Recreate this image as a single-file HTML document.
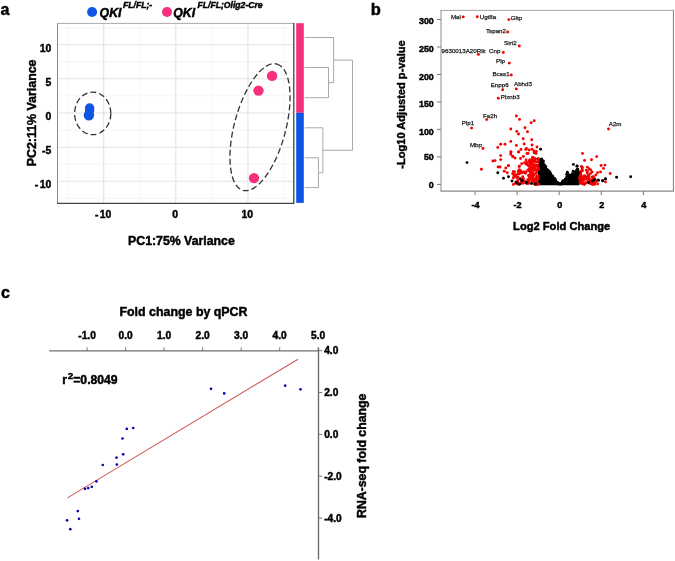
<!DOCTYPE html>
<html><head><meta charset="utf-8"><style>
html,body{margin:0;padding:0;background:#fff;}
svg{display:block;will-change:transform;filter:blur(0.3px);}
text{font-family:"Liberation Sans",sans-serif;}
text[font-weight="bold"]{stroke:#000;stroke-width:0.45px;}
</style></head><body>
<svg width="675" height="561" viewBox="0 0 675 561">
<rect width="675" height="561" fill="#fff"/>
<line x1="67.7" y1="23.4" x2="67.7" y2="203.3" stroke="#f3f3f3" stroke-width="0.8"/>
<line x1="139.8" y1="23.4" x2="139.8" y2="203.3" stroke="#f3f3f3" stroke-width="0.8"/>
<line x1="211.9" y1="23.4" x2="211.9" y2="203.3" stroke="#f3f3f3" stroke-width="0.8"/>
<line x1="284.0" y1="23.4" x2="284.0" y2="203.3" stroke="#f3f3f3" stroke-width="0.8"/>
<line x1="57.5" y1="27.6" x2="293.8" y2="27.6" stroke="#f3f3f3" stroke-width="0.8"/>
<line x1="57.5" y1="61.8" x2="293.8" y2="61.8" stroke="#f3f3f3" stroke-width="0.8"/>
<line x1="57.5" y1="95.9" x2="293.8" y2="95.9" stroke="#f3f3f3" stroke-width="0.8"/>
<line x1="57.5" y1="130.1" x2="293.8" y2="130.1" stroke="#f3f3f3" stroke-width="0.8"/>
<line x1="57.5" y1="164.2" x2="293.8" y2="164.2" stroke="#f3f3f3" stroke-width="0.8"/>
<line x1="57.5" y1="198.4" x2="293.8" y2="198.4" stroke="#f3f3f3" stroke-width="0.8"/>
<line x1="103.7" y1="23.4" x2="103.7" y2="203.3" stroke="#e3e3e3" stroke-width="1.1"/>
<line x1="175.8" y1="23.4" x2="175.8" y2="203.3" stroke="#e3e3e3" stroke-width="1.1"/>
<line x1="247.9" y1="23.4" x2="247.9" y2="203.3" stroke="#e3e3e3" stroke-width="1.1"/>
<line x1="57.5" y1="44.7" x2="293.8" y2="44.7" stroke="#e3e3e3" stroke-width="1.1"/>
<line x1="57.5" y1="78.8" x2="293.8" y2="78.8" stroke="#e3e3e3" stroke-width="1.1"/>
<line x1="57.5" y1="113.0" x2="293.8" y2="113.0" stroke="#e3e3e3" stroke-width="1.1"/>
<line x1="57.5" y1="147.2" x2="293.8" y2="147.2" stroke="#e3e3e3" stroke-width="1.1"/>
<line x1="57.5" y1="181.3" x2="293.8" y2="181.3" stroke="#e3e3e3" stroke-width="1.1"/>
<line x1="57.5" y1="23.4" x2="293.8" y2="23.4" stroke="#aaa" stroke-width="1"/>
<line x1="57.5" y1="23.4" x2="57.5" y2="203.3" stroke="#888" stroke-width="1"/>
<line x1="57.0" y1="203.3" x2="293.8" y2="203.3" stroke="#444" stroke-width="1.2"/>
<line x1="293.8" y1="22.9" x2="293.8" y2="203.9" stroke="#333" stroke-width="1.2"/>
<circle cx="89.6" cy="108.0" r="4.7" fill="#0e55e4"/>
<circle cx="89.6" cy="110.6" r="4.7" fill="#0e55e4"/>
<circle cx="88.9" cy="115.3" r="5.2" fill="#0e55e4"/>
<circle cx="272.1" cy="75.9" r="5.2" fill="#f6307a"/>
<circle cx="258.5" cy="90.6" r="5.2" fill="#f6307a"/>
<circle cx="254" cy="178.1" r="5.2" fill="#f6307a"/>
<ellipse cx="92.7" cy="113.4" rx="18.1" ry="21.3" fill="none" stroke="#333" stroke-width="1.3" stroke-dasharray="6 3"/>
<ellipse cx="260" cy="127.2" rx="65.4" ry="25.7" transform="rotate(-75 260 127.2)" fill="none" stroke="#333" stroke-width="1.3" stroke-dasharray="6 3"/>
<rect x="296.2" y="23.2" width="7.6" height="89.6" fill="#f6307a"/>
<rect x="296.2" y="112.8" width="7.6" height="90.1" fill="#0e55e4"/>
<line x1="304.7" y1="37.5" x2="333.6" y2="37.5" stroke="#a8a8a8" stroke-width="1"/>
<line x1="304.7" y1="67.5" x2="328.5" y2="67.5" stroke="#a8a8a8" stroke-width="1"/>
<line x1="304.7" y1="97.7" x2="328.5" y2="97.7" stroke="#a8a8a8" stroke-width="1"/>
<line x1="328.5" y1="67.5" x2="328.5" y2="97.7" stroke="#a8a8a8" stroke-width="1"/>
<line x1="328.5" y1="82.6" x2="333.6" y2="82.6" stroke="#a8a8a8" stroke-width="1"/>
<line x1="333.6" y1="37.5" x2="333.6" y2="82.6" stroke="#a8a8a8" stroke-width="1"/>
<line x1="333.6" y1="60.1" x2="352.5" y2="60.1" stroke="#a8a8a8" stroke-width="1"/>
<line x1="304.7" y1="127.8" x2="322.9" y2="127.8" stroke="#a8a8a8" stroke-width="1"/>
<line x1="304.7" y1="157.8" x2="318.4" y2="157.8" stroke="#a8a8a8" stroke-width="1"/>
<line x1="304.7" y1="187.6" x2="318.4" y2="187.6" stroke="#a8a8a8" stroke-width="1"/>
<line x1="318.4" y1="157.8" x2="318.4" y2="187.6" stroke="#a8a8a8" stroke-width="1"/>
<line x1="318.4" y1="172.7" x2="322.9" y2="172.7" stroke="#a8a8a8" stroke-width="1"/>
<line x1="322.9" y1="127.8" x2="322.9" y2="172.7" stroke="#a8a8a8" stroke-width="1"/>
<line x1="322.9" y1="150.3" x2="352.5" y2="150.3" stroke="#a8a8a8" stroke-width="1"/>
<line x1="352.5" y1="60.1" x2="352.5" y2="150.3" stroke="#a8a8a8" stroke-width="1"/>
<text x="51.2" y="51.8" text-anchor="end" font-size="10.4" font-weight="bold">10</text>
<text x="51.2" y="85.9" text-anchor="end" font-size="10.4" font-weight="bold">5</text>
<text x="51.2" y="120.1" text-anchor="end" font-size="10.4" font-weight="bold">0</text>
<text x="51.2" y="154.2" text-anchor="end" font-size="10.4" font-weight="bold">-5</text>
<text x="51.2" y="188.4" text-anchor="end" font-size="10.4" font-weight="bold">-<tspan dx="1.3">10</tspan></text>
<text x="103.1" y="218.3" text-anchor="middle" font-size="10.4" font-weight="bold">-<tspan dx="1.3">10</tspan></text>
<text x="175.2" y="218.3" text-anchor="middle" font-size="10.4" font-weight="bold">0</text>
<text x="247.3" y="218.3" text-anchor="middle" font-size="10.4" font-weight="bold">10</text>
<text x="181.4" y="244.8" text-anchor="middle" font-size="12.3" font-weight="bold">PC1:75% Variance</text>
<text transform="translate(36.4 112.9) rotate(-90)" text-anchor="middle" font-size="12.4" font-weight="bold">PC2:11% Variance</text>
<circle cx="92.1" cy="12" r="5" fill="#0e55e4"/>
<text x="99.6" y="16.6" font-size="12.3" font-weight="bold" font-style="italic">QKI</text>
<text x="123" y="7.5" font-size="8.65" font-weight="bold" font-style="italic">FL/FL;-</text>
<circle cx="167" cy="12" r="5" fill="#f6307a"/>
<text x="173.3" y="16.6" font-size="12.3" font-weight="bold" font-style="italic">QKI</text>
<text x="197.5" y="8.0" font-size="8.65" font-weight="bold" font-style="italic">FL/FL;Olig2-Cre</text>
<text x="0.6" y="15.1" font-size="16" font-weight="bold">a</text>
<text x="370.7" y="15.0" font-size="16.5" font-weight="bold">b</text>
<text x="1.1" y="297.7" font-size="16" font-weight="bold">c</text>
<line x1="440.5" y1="10.4" x2="673.9" y2="10.4" stroke="#a4a4a4" stroke-width="1"/>
<line x1="441.0" y1="10.4" x2="441.0" y2="191.1" stroke="#8c8c8c" stroke-width="1"/>
<line x1="673.4" y1="10.4" x2="673.4" y2="191.1" stroke="#7a7a7a" stroke-width="1"/>
<line x1="440.5" y1="191.1" x2="673.9" y2="191.1" stroke="#6a6a6a" stroke-width="1"/>
<line x1="437.0" y1="184.4" x2="441.0" y2="184.4" stroke="#7a7a7a" stroke-width="1"/>
<text x="433.8" y="188.3" text-anchor="end" font-size="8.9" font-weight="bold">0</text>
<line x1="437.0" y1="156.9" x2="441.0" y2="156.9" stroke="#7a7a7a" stroke-width="1"/>
<text x="433.8" y="160.4" text-anchor="end" font-size="8.9" font-weight="bold">50</text>
<line x1="437.0" y1="129.4" x2="441.0" y2="129.4" stroke="#7a7a7a" stroke-width="1"/>
<text x="433.8" y="134.6" text-anchor="end" font-size="8.9" font-weight="bold">100</text>
<line x1="437.0" y1="102.0" x2="441.0" y2="102.0" stroke="#7a7a7a" stroke-width="1"/>
<text x="433.8" y="107.1" text-anchor="end" font-size="8.9" font-weight="bold">150</text>
<line x1="437.0" y1="74.5" x2="441.0" y2="74.5" stroke="#7a7a7a" stroke-width="1"/>
<text x="433.8" y="79.5" text-anchor="end" font-size="8.9" font-weight="bold">200</text>
<line x1="437.0" y1="47.0" x2="441.0" y2="47.0" stroke="#7a7a7a" stroke-width="1"/>
<text x="433.8" y="51.8" text-anchor="end" font-size="8.9" font-weight="bold">250</text>
<line x1="437.0" y1="19.5" x2="441.0" y2="19.5" stroke="#7a7a7a" stroke-width="1"/>
<text x="433.8" y="24.3" text-anchor="end" font-size="8.9" font-weight="bold">300</text>
<line x1="475.0" y1="191.1" x2="475.0" y2="195.1" stroke="#7a7a7a" stroke-width="1"/>
<text x="475.5" y="207.8" text-anchor="middle" font-size="9.1" font-weight="bold">-4</text>
<line x1="517.1" y1="191.1" x2="517.1" y2="195.1" stroke="#7a7a7a" stroke-width="1"/>
<text x="517.6" y="207.8" text-anchor="middle" font-size="9.1" font-weight="bold">-2</text>
<line x1="559.2" y1="191.1" x2="559.2" y2="195.1" stroke="#7a7a7a" stroke-width="1"/>
<text x="559.7" y="207.8" text-anchor="middle" font-size="9.1" font-weight="bold">0</text>
<line x1="601.3" y1="191.1" x2="601.3" y2="195.1" stroke="#7a7a7a" stroke-width="1"/>
<text x="601.8" y="207.8" text-anchor="middle" font-size="9.1" font-weight="bold">2</text>
<line x1="643.4" y1="191.1" x2="643.4" y2="195.1" stroke="#7a7a7a" stroke-width="1"/>
<text x="643.9" y="207.8" text-anchor="middle" font-size="9.1" font-weight="bold">4</text>
<text x="561.7" y="229.6" text-anchor="middle" font-size="11.15" font-weight="bold">Log2 Fold Change</text>
<text transform="translate(405.2 104.5) rotate(-90)" text-anchor="middle" font-size="11.1" font-weight="bold">-Log10 Adjusted p-value</text>
<polygon points="538.6,158.8 542,158.6 543.5,161.3 545,164.5 547.5,168.5 549.5,171.5 551.5,174.6 553.5,177 555.5,179.4 557.5,181.6 559.3,183.2 561,182.4 563,180.5 565.5,177.8 568,175.5 570.5,174.2 573,172.6 575.5,171.5 578.8,170.5 578.8,185.3 538.6,185.3" fill="#000"/>
<circle cx="539.1" cy="159.6" r="1.45" fill="#000"/>
<circle cx="540.4" cy="160.3" r="1.45" fill="#000"/>
<circle cx="541.5" cy="159.7" r="1.45" fill="#000"/>
<circle cx="541.8" cy="159.8" r="1.45" fill="#000"/>
<circle cx="543.3" cy="160.9" r="1.45" fill="#000"/>
<circle cx="542.8" cy="161.6" r="1.45" fill="#000"/>
<circle cx="543.1" cy="162.0" r="1.45" fill="#000"/>
<circle cx="543.4" cy="164.1" r="1.45" fill="#000"/>
<circle cx="544.1" cy="165.3" r="1.45" fill="#000"/>
<circle cx="544.6" cy="165.5" r="1.45" fill="#000"/>
<circle cx="545.8" cy="166.7" r="1.45" fill="#000"/>
<circle cx="546.4" cy="169.1" r="1.45" fill="#000"/>
<circle cx="548.1" cy="170.2" r="1.45" fill="#000"/>
<circle cx="548.4" cy="171.4" r="1.45" fill="#000"/>
<circle cx="549.5" cy="171.8" r="1.45" fill="#000"/>
<circle cx="549.9" cy="172.2" r="1.45" fill="#000"/>
<circle cx="550.5" cy="173.8" r="1.45" fill="#000"/>
<circle cx="551.2" cy="175.0" r="1.45" fill="#000"/>
<circle cx="551.2" cy="175.3" r="1.45" fill="#000"/>
<circle cx="552.8" cy="176.2" r="1.45" fill="#000"/>
<circle cx="552.8" cy="177.3" r="1.45" fill="#000"/>
<circle cx="553.2" cy="178.6" r="1.45" fill="#000"/>
<circle cx="554.9" cy="178.8" r="1.45" fill="#000"/>
<circle cx="555.1" cy="179.6" r="1.45" fill="#000"/>
<circle cx="555.6" cy="180.6" r="1.45" fill="#000"/>
<circle cx="555.6" cy="181.0" r="1.45" fill="#000"/>
<circle cx="556.4" cy="182.7" r="1.45" fill="#000"/>
<circle cx="557.5" cy="182.5" r="1.45" fill="#000"/>
<circle cx="558.7" cy="184.1" r="1.45" fill="#000"/>
<circle cx="558.6" cy="183.5" r="1.45" fill="#000"/>
<circle cx="558.8" cy="183.9" r="1.45" fill="#000"/>
<circle cx="559.6" cy="183.7" r="1.45" fill="#000"/>
<circle cx="560.0" cy="183.6" r="1.45" fill="#000"/>
<circle cx="561.1" cy="184.2" r="1.45" fill="#000"/>
<circle cx="562.1" cy="183.0" r="1.45" fill="#000"/>
<circle cx="562.2" cy="182.5" r="1.45" fill="#000"/>
<circle cx="562.8" cy="181.6" r="1.45" fill="#000"/>
<circle cx="563.1" cy="180.6" r="1.45" fill="#000"/>
<circle cx="565.4" cy="179.5" r="1.45" fill="#000"/>
<circle cx="565.5" cy="179.3" r="1.45" fill="#000"/>
<circle cx="566.9" cy="177.9" r="1.45" fill="#000"/>
<circle cx="566.8" cy="177.2" r="1.45" fill="#000"/>
<circle cx="567.8" cy="176.7" r="1.45" fill="#000"/>
<circle cx="569.6" cy="176.9" r="1.45" fill="#000"/>
<circle cx="570.2" cy="175.3" r="1.45" fill="#000"/>
<circle cx="569.8" cy="175.8" r="1.45" fill="#000"/>
<circle cx="572.0" cy="174.9" r="1.45" fill="#000"/>
<circle cx="572.3" cy="173.7" r="1.45" fill="#000"/>
<circle cx="572.8" cy="174.5" r="1.45" fill="#000"/>
<circle cx="574.3" cy="174.0" r="1.45" fill="#000"/>
<circle cx="575.4" cy="172.8" r="1.45" fill="#000"/>
<circle cx="574.9" cy="172.3" r="1.45" fill="#000"/>
<circle cx="576.6" cy="172.7" r="1.45" fill="#000"/>
<circle cx="578.4" cy="172.5" r="1.45" fill="#000"/>
<circle cx="539.6" cy="178.7" r="1.45" fill="#000"/>
<circle cx="539.1" cy="173.5" r="1.45" fill="#000"/>
<circle cx="538.1" cy="179.2" r="1.45" fill="#000"/>
<circle cx="538.6" cy="182.5" r="1.45" fill="#000"/>
<circle cx="539.6" cy="167.4" r="1.45" fill="#000"/>
<circle cx="538.3" cy="166.2" r="1.45" fill="#000"/>
<circle cx="539.6" cy="177.1" r="1.45" fill="#000"/>
<circle cx="538.3" cy="161.7" r="1.45" fill="#000"/>
<circle cx="539.3" cy="174.3" r="1.45" fill="#000"/>
<circle cx="539.0" cy="165.5" r="1.45" fill="#000"/>
<circle cx="539.5" cy="160.3" r="1.45" fill="#000"/>
<circle cx="538.8" cy="171.3" r="1.45" fill="#000"/>
<circle cx="540.4" cy="175.8" r="1.45" fill="#000"/>
<circle cx="540.2" cy="171.6" r="1.45" fill="#000"/>
<circle cx="577.4" cy="172.8" r="1.45" fill="#000"/>
<circle cx="580.3" cy="179.9" r="1.45" fill="#000"/>
<circle cx="577.7" cy="169.3" r="1.45" fill="#000"/>
<circle cx="578.5" cy="179.5" r="1.45" fill="#000"/>
<circle cx="578.2" cy="173.0" r="1.45" fill="#000"/>
<circle cx="579.2" cy="183.3" r="1.45" fill="#000"/>
<circle cx="577.4" cy="169.5" r="1.45" fill="#000"/>
<circle cx="577.9" cy="175.5" r="1.45" fill="#000"/>
<circle cx="579.2" cy="172.1" r="1.45" fill="#000"/>
<circle cx="579.7" cy="180.5" r="1.45" fill="#000"/>
<circle cx="578.5" cy="172.2" r="1.45" fill="#000"/>
<circle cx="580.4" cy="173.8" r="1.45" fill="#000"/>
<circle cx="579.8" cy="172.6" r="1.45" fill="#000"/>
<circle cx="577.4" cy="180.8" r="1.45" fill="#000"/>
<circle cx="577.7" cy="183.8" r="1.45" fill="#000"/>
<circle cx="578.5" cy="171.9" r="1.45" fill="#000"/>
<circle cx="568.2" cy="174.5" r="1.45" fill="#000"/>
<circle cx="572.7" cy="177.7" r="1.45" fill="#000"/>
<circle cx="567.5" cy="174.4" r="1.45" fill="#000"/>
<circle cx="568.1" cy="177.8" r="1.45" fill="#000"/>
<circle cx="567.4" cy="172.3" r="1.45" fill="#000"/>
<circle cx="566.6" cy="174.4" r="1.45" fill="#000"/>
<circle cx="575.0" cy="177.3" r="1.45" fill="#000"/>
<circle cx="573.3" cy="178.0" r="1.45" fill="#000"/>
<circle cx="575.3" cy="174.0" r="1.45" fill="#000"/>
<circle cx="567.9" cy="177.6" r="1.45" fill="#000"/>
<circle cx="467" cy="162.6" r="1.45" fill="#000"/>
<circle cx="497.8" cy="172.8" r="1.45" fill="#000"/>
<circle cx="503.5" cy="178.2" r="1.45" fill="#000"/>
<circle cx="508.5" cy="176.8" r="1.45" fill="#000"/>
<circle cx="540.6" cy="149.2" r="1.45" fill="#000"/>
<circle cx="538.1" cy="158.9" r="1.45" fill="#000"/>
<circle cx="541.7" cy="158.9" r="1.45" fill="#000"/>
<circle cx="573.4" cy="164.4" r="1.45" fill="#000"/>
<circle cx="577.1" cy="165.9" r="1.45" fill="#000"/>
<circle cx="573.1" cy="171.1" r="1.45" fill="#000"/>
<circle cx="576.9" cy="170" r="1.45" fill="#000"/>
<circle cx="577" cy="166.3" r="1.45" fill="#000"/>
<circle cx="576.6" cy="170.5" r="1.45" fill="#000"/>
<circle cx="594.3" cy="179.7" r="1.45" fill="#000"/>
<circle cx="592.3" cy="181.1" r="1.45" fill="#000"/>
<circle cx="602.7" cy="180.7" r="1.45" fill="#000"/>
<circle cx="605.5" cy="178.9" r="1.45" fill="#000"/>
<circle cx="616.6" cy="177.3" r="1.45" fill="#000"/>
<circle cx="630.7" cy="176.7" r="1.45" fill="#000"/>
<circle cx="598.3" cy="180.3" r="1.45" fill="#000"/>
<circle cx="520.3" cy="178.7" r="1.45" fill="#000"/>
<circle cx="522.6" cy="180.2" r="1.45" fill="#000"/>
<circle cx="516" cy="182" r="1.45" fill="#000"/>
<circle cx="526" cy="183" r="1.45" fill="#000"/>
<circle cx="512" cy="181" r="1.45" fill="#000"/>
<circle cx="463.3" cy="16.9" r="1.45" fill="#f40000"/>
<circle cx="477.3" cy="16.7" r="1.45" fill="#f40000"/>
<circle cx="508.9" cy="19.6" r="1.45" fill="#f40000"/>
<circle cx="507.6" cy="32" r="1.45" fill="#f40000"/>
<circle cx="519.3" cy="46" r="1.45" fill="#f40000"/>
<circle cx="478.4" cy="54.4" r="1.45" fill="#f40000"/>
<circle cx="503.3" cy="52.4" r="1.45" fill="#f40000"/>
<circle cx="509.3" cy="63.1" r="1.45" fill="#f40000"/>
<circle cx="511.3" cy="75" r="1.45" fill="#f40000"/>
<circle cx="502.7" cy="89.7" r="1.45" fill="#f40000"/>
<circle cx="516.3" cy="88.9" r="1.45" fill="#f40000"/>
<circle cx="498.3" cy="98.3" r="1.45" fill="#f40000"/>
<circle cx="486.6" cy="119.6" r="1.45" fill="#f40000"/>
<circle cx="471.6" cy="128.1" r="1.45" fill="#f40000"/>
<circle cx="483" cy="148.4" r="1.45" fill="#f40000"/>
<circle cx="608.5" cy="129" r="1.45" fill="#f40000"/>
<circle cx="481.4" cy="169.3" r="1.45" fill="#f40000"/>
<circle cx="516.4" cy="116" r="1.45" fill="#f40000"/>
<circle cx="519.5" cy="119.4" r="1.45" fill="#f40000"/>
<circle cx="534.2" cy="120.8" r="1.45" fill="#f40000"/>
<circle cx="531.1" cy="122.8" r="1.45" fill="#f40000"/>
<circle cx="510.8" cy="129" r="1.45" fill="#f40000"/>
<circle cx="525" cy="127.8" r="1.45" fill="#f40000"/>
<circle cx="516.8" cy="131.4" r="1.45" fill="#f40000"/>
<circle cx="527.5" cy="131.7" r="1.45" fill="#f40000"/>
<circle cx="518.5" cy="134" r="1.45" fill="#f40000"/>
<circle cx="523.2" cy="138.8" r="1.45" fill="#f40000"/>
<circle cx="531.7" cy="139.7" r="1.45" fill="#f40000"/>
<circle cx="510.8" cy="141.4" r="1.45" fill="#f40000"/>
<circle cx="500.7" cy="144.2" r="1.45" fill="#f40000"/>
<circle cx="505" cy="144.2" r="1.45" fill="#f40000"/>
<circle cx="497.8" cy="147.4" r="1.45" fill="#f40000"/>
<circle cx="516.4" cy="145.4" r="1.45" fill="#f40000"/>
<circle cx="524.2" cy="144" r="1.45" fill="#f40000"/>
<circle cx="532.1" cy="145" r="1.45" fill="#f40000"/>
<circle cx="537" cy="147" r="1.45" fill="#f40000"/>
<circle cx="526.4" cy="148.5" r="1.45" fill="#f40000"/>
<circle cx="511" cy="152" r="1.45" fill="#f40000"/>
<circle cx="518.5" cy="152" r="1.45" fill="#f40000"/>
<circle cx="500.7" cy="155.6" r="1.45" fill="#f40000"/>
<circle cx="512.8" cy="156.4" r="1.45" fill="#f40000"/>
<circle cx="500.7" cy="159.6" r="1.45" fill="#f40000"/>
<circle cx="492.9" cy="161" r="1.45" fill="#f40000"/>
<circle cx="495" cy="160.6" r="1.45" fill="#f40000"/>
<circle cx="508.5" cy="165.6" r="1.45" fill="#f40000"/>
<circle cx="500" cy="167" r="1.45" fill="#f40000"/>
<circle cx="504.3" cy="171.3" r="1.45" fill="#f40000"/>
<circle cx="510.8" cy="154.2" r="1.45" fill="#f40000"/>
<circle cx="498.1" cy="167" r="1.45" fill="#f40000"/>
<circle cx="529" cy="150" r="1.45" fill="#f40000"/>
<circle cx="534" cy="151" r="1.45" fill="#f40000"/>
<circle cx="521" cy="149.5" r="1.45" fill="#f40000"/>
<circle cx="527" cy="153.5" r="1.45" fill="#f40000"/>
<circle cx="515" cy="158" r="1.45" fill="#f40000"/>
<circle cx="536" cy="153.5" r="1.45" fill="#f40000"/>
<circle cx="582.5" cy="153.4" r="1.45" fill="#f40000"/>
<circle cx="596.7" cy="156.6" r="1.45" fill="#f40000"/>
<circle cx="584.5" cy="160.4" r="1.45" fill="#f40000"/>
<circle cx="591.5" cy="159.8" r="1.45" fill="#f40000"/>
<circle cx="581.4" cy="166.5" r="1.45" fill="#f40000"/>
<circle cx="582.4" cy="167.5" r="1.45" fill="#f40000"/>
<circle cx="587.4" cy="167.1" r="1.45" fill="#f40000"/>
<circle cx="589" cy="168.7" r="1.45" fill="#f40000"/>
<circle cx="590.6" cy="169.9" r="1.45" fill="#f40000"/>
<circle cx="587.4" cy="171.5" r="1.45" fill="#f40000"/>
<circle cx="601.1" cy="165.5" r="1.45" fill="#f40000"/>
<circle cx="604.9" cy="165.1" r="1.45" fill="#f40000"/>
<circle cx="603.5" cy="168.4" r="1.45" fill="#f40000"/>
<circle cx="600.5" cy="171.9" r="1.45" fill="#f40000"/>
<circle cx="610.2" cy="173.5" r="1.45" fill="#f40000"/>
<circle cx="605.5" cy="181.9" r="1.45" fill="#f40000"/>
<circle cx="532.1" cy="161.6" r="1.45" fill="#f40000"/>
<circle cx="535.2" cy="159.5" r="1.45" fill="#f40000"/>
<circle cx="534.1" cy="167.4" r="1.45" fill="#f40000"/>
<circle cx="529.6" cy="171.3" r="1.45" fill="#f40000"/>
<circle cx="529.4" cy="169.3" r="1.45" fill="#f40000"/>
<circle cx="529.7" cy="160.0" r="1.45" fill="#f40000"/>
<circle cx="533.1" cy="179.9" r="1.45" fill="#f40000"/>
<circle cx="530.2" cy="163.5" r="1.45" fill="#f40000"/>
<circle cx="535.0" cy="183.2" r="1.45" fill="#f40000"/>
<circle cx="534.5" cy="168.3" r="1.45" fill="#f40000"/>
<circle cx="538.4" cy="158.8" r="1.45" fill="#f40000"/>
<circle cx="537.2" cy="165.3" r="1.45" fill="#f40000"/>
<circle cx="530.4" cy="160.7" r="1.45" fill="#f40000"/>
<circle cx="532.0" cy="179.6" r="1.45" fill="#f40000"/>
<circle cx="530.7" cy="173.3" r="1.45" fill="#f40000"/>
<circle cx="535.1" cy="167.6" r="1.45" fill="#f40000"/>
<circle cx="534.3" cy="159.2" r="1.45" fill="#f40000"/>
<circle cx="529.6" cy="163.1" r="1.45" fill="#f40000"/>
<circle cx="535.5" cy="169.1" r="1.45" fill="#f40000"/>
<circle cx="532.0" cy="173.4" r="1.45" fill="#f40000"/>
<circle cx="533.4" cy="165.6" r="1.45" fill="#f40000"/>
<circle cx="536.6" cy="176.4" r="1.45" fill="#f40000"/>
<circle cx="531.3" cy="173.1" r="1.45" fill="#f40000"/>
<circle cx="534.0" cy="181.2" r="1.45" fill="#f40000"/>
<circle cx="536.0" cy="165.3" r="1.45" fill="#f40000"/>
<circle cx="538.4" cy="160.7" r="1.45" fill="#f40000"/>
<circle cx="533.0" cy="178.0" r="1.45" fill="#f40000"/>
<circle cx="530.5" cy="170.8" r="1.45" fill="#f40000"/>
<circle cx="529.4" cy="175.6" r="1.45" fill="#f40000"/>
<circle cx="536.3" cy="173.0" r="1.45" fill="#f40000"/>
<circle cx="537.4" cy="166.0" r="1.45" fill="#f40000"/>
<circle cx="535.7" cy="173.6" r="1.45" fill="#f40000"/>
<circle cx="534.6" cy="169.9" r="1.45" fill="#f40000"/>
<circle cx="537.1" cy="183.1" r="1.45" fill="#f40000"/>
<circle cx="533.6" cy="175.5" r="1.45" fill="#f40000"/>
<circle cx="529.6" cy="176.5" r="1.45" fill="#f40000"/>
<circle cx="535.2" cy="184.4" r="1.45" fill="#f40000"/>
<circle cx="536.9" cy="165.2" r="1.45" fill="#f40000"/>
<circle cx="532.7" cy="175.6" r="1.45" fill="#f40000"/>
<circle cx="529.2" cy="170.0" r="1.45" fill="#f40000"/>
<circle cx="530.6" cy="160.7" r="1.45" fill="#f40000"/>
<circle cx="529.6" cy="178.3" r="1.45" fill="#f40000"/>
<circle cx="530.2" cy="164.2" r="1.45" fill="#f40000"/>
<circle cx="532.8" cy="181.1" r="1.45" fill="#f40000"/>
<circle cx="529.8" cy="169.7" r="1.45" fill="#f40000"/>
<circle cx="534.3" cy="181.4" r="1.45" fill="#f40000"/>
<circle cx="536.9" cy="180.9" r="1.45" fill="#f40000"/>
<circle cx="531.7" cy="168.8" r="1.45" fill="#f40000"/>
<circle cx="532.4" cy="181.5" r="1.45" fill="#f40000"/>
<circle cx="538.2" cy="161.6" r="1.45" fill="#f40000"/>
<circle cx="530.7" cy="163.8" r="1.45" fill="#f40000"/>
<circle cx="531.2" cy="170.6" r="1.45" fill="#f40000"/>
<circle cx="534.7" cy="164.6" r="1.45" fill="#f40000"/>
<circle cx="529.0" cy="168.9" r="1.45" fill="#f40000"/>
<circle cx="532.5" cy="172.8" r="1.45" fill="#f40000"/>
<circle cx="538.1" cy="176.2" r="1.45" fill="#f40000"/>
<circle cx="533.9" cy="174.2" r="1.45" fill="#f40000"/>
<circle cx="535.5" cy="159.0" r="1.45" fill="#f40000"/>
<circle cx="537.6" cy="178.6" r="1.45" fill="#f40000"/>
<circle cx="537.4" cy="179.1" r="1.45" fill="#f40000"/>
<circle cx="532.8" cy="168.3" r="1.45" fill="#f40000"/>
<circle cx="530.0" cy="174.7" r="1.45" fill="#f40000"/>
<circle cx="531.0" cy="161.9" r="1.45" fill="#f40000"/>
<circle cx="532.3" cy="158.9" r="1.45" fill="#f40000"/>
<circle cx="529.0" cy="161.6" r="1.45" fill="#f40000"/>
<circle cx="530.0" cy="167.4" r="1.45" fill="#f40000"/>
<circle cx="529.2" cy="181.2" r="1.45" fill="#f40000"/>
<circle cx="534.9" cy="161.5" r="1.45" fill="#f40000"/>
<circle cx="531.4" cy="166.9" r="1.45" fill="#f40000"/>
<circle cx="532.5" cy="160.8" r="1.45" fill="#f40000"/>
<circle cx="537.1" cy="184.4" r="1.45" fill="#f40000"/>
<circle cx="533.5" cy="170.6" r="1.45" fill="#f40000"/>
<circle cx="529.8" cy="160.3" r="1.45" fill="#f40000"/>
<circle cx="532.3" cy="164.7" r="1.45" fill="#f40000"/>
<circle cx="537.0" cy="161.9" r="1.45" fill="#f40000"/>
<circle cx="529.2" cy="183.3" r="1.45" fill="#f40000"/>
<circle cx="534.1" cy="161.5" r="1.45" fill="#f40000"/>
<circle cx="534.2" cy="158.2" r="1.45" fill="#f40000"/>
<circle cx="534.1" cy="184.0" r="1.45" fill="#f40000"/>
<circle cx="537.3" cy="176.4" r="1.45" fill="#f40000"/>
<circle cx="531.5" cy="167.4" r="1.45" fill="#f40000"/>
<circle cx="530.6" cy="178.4" r="1.45" fill="#f40000"/>
<circle cx="534.1" cy="178.6" r="1.45" fill="#f40000"/>
<circle cx="532.2" cy="163.5" r="1.45" fill="#f40000"/>
<circle cx="536.8" cy="184.2" r="1.45" fill="#f40000"/>
<circle cx="537.2" cy="179.3" r="1.45" fill="#f40000"/>
<circle cx="536.9" cy="177.6" r="1.45" fill="#f40000"/>
<circle cx="531.2" cy="171.5" r="1.45" fill="#f40000"/>
<circle cx="532.4" cy="158.3" r="1.45" fill="#f40000"/>
<circle cx="529.3" cy="165.1" r="1.45" fill="#f40000"/>
<circle cx="531.5" cy="176.3" r="1.45" fill="#f40000"/>
<circle cx="538.2" cy="169.6" r="1.45" fill="#f40000"/>
<circle cx="538.0" cy="184.3" r="1.45" fill="#f40000"/>
<circle cx="538.2" cy="167.4" r="1.45" fill="#f40000"/>
<circle cx="531.1" cy="163.6" r="1.45" fill="#f40000"/>
<circle cx="530.9" cy="163.0" r="1.45" fill="#f40000"/>
<circle cx="535.0" cy="181.9" r="1.45" fill="#f40000"/>
<circle cx="537.1" cy="170.5" r="1.45" fill="#f40000"/>
<circle cx="535.3" cy="179.2" r="1.45" fill="#f40000"/>
<circle cx="529.8" cy="175.4" r="1.45" fill="#f40000"/>
<circle cx="537.7" cy="178.7" r="1.45" fill="#f40000"/>
<circle cx="536.2" cy="170.5" r="1.45" fill="#f40000"/>
<circle cx="530.7" cy="178.9" r="1.45" fill="#f40000"/>
<circle cx="532.2" cy="179.2" r="1.45" fill="#f40000"/>
<circle cx="538.3" cy="168.2" r="1.45" fill="#f40000"/>
<circle cx="521.2" cy="183.2" r="1.45" fill="#f40000"/>
<circle cx="525.4" cy="163.4" r="1.45" fill="#f40000"/>
<circle cx="527.8" cy="179.6" r="1.45" fill="#f40000"/>
<circle cx="517.9" cy="180.2" r="1.45" fill="#f40000"/>
<circle cx="528.7" cy="175.8" r="1.45" fill="#f40000"/>
<circle cx="520.6" cy="173.0" r="1.45" fill="#f40000"/>
<circle cx="528.6" cy="175.6" r="1.45" fill="#f40000"/>
<circle cx="522.8" cy="182.9" r="1.45" fill="#f40000"/>
<circle cx="521.6" cy="181.3" r="1.45" fill="#f40000"/>
<circle cx="526.7" cy="164.4" r="1.45" fill="#f40000"/>
<circle cx="519.3" cy="166.5" r="1.45" fill="#f40000"/>
<circle cx="519.1" cy="174.0" r="1.45" fill="#f40000"/>
<circle cx="519.4" cy="169.7" r="1.45" fill="#f40000"/>
<circle cx="517.7" cy="182.3" r="1.45" fill="#f40000"/>
<circle cx="520.6" cy="170.7" r="1.45" fill="#f40000"/>
<circle cx="523.6" cy="182.1" r="1.45" fill="#f40000"/>
<circle cx="521.5" cy="182.5" r="1.45" fill="#f40000"/>
<circle cx="522.5" cy="172.6" r="1.45" fill="#f40000"/>
<circle cx="521.7" cy="163.7" r="1.45" fill="#f40000"/>
<circle cx="518.2" cy="171.1" r="1.45" fill="#f40000"/>
<circle cx="525.4" cy="173.2" r="1.45" fill="#f40000"/>
<circle cx="520.2" cy="172.3" r="1.45" fill="#f40000"/>
<circle cx="523.2" cy="179.1" r="1.45" fill="#f40000"/>
<circle cx="519.2" cy="166.1" r="1.45" fill="#f40000"/>
<circle cx="526.0" cy="172.0" r="1.45" fill="#f40000"/>
<circle cx="523.3" cy="178.5" r="1.45" fill="#f40000"/>
<circle cx="527.9" cy="170.3" r="1.45" fill="#f40000"/>
<circle cx="524.0" cy="171.9" r="1.45" fill="#f40000"/>
<circle cx="522.7" cy="176.7" r="1.45" fill="#f40000"/>
<circle cx="521.9" cy="172.7" r="1.45" fill="#f40000"/>
<circle cx="522.2" cy="183.1" r="1.45" fill="#f40000"/>
<circle cx="525.1" cy="181.4" r="1.45" fill="#f40000"/>
<circle cx="528.2" cy="165.6" r="1.45" fill="#f40000"/>
<circle cx="523.3" cy="183.1" r="1.45" fill="#f40000"/>
<circle cx="526.9" cy="162.5" r="1.45" fill="#f40000"/>
<circle cx="526.2" cy="182.0" r="1.45" fill="#f40000"/>
<circle cx="518.0" cy="177.3" r="1.45" fill="#f40000"/>
<circle cx="524.6" cy="162.7" r="1.45" fill="#f40000"/>
<circle cx="527.5" cy="183.8" r="1.45" fill="#f40000"/>
<circle cx="518.9" cy="183.4" r="1.45" fill="#f40000"/>
<circle cx="521.2" cy="171.5" r="1.45" fill="#f40000"/>
<circle cx="528.9" cy="180.3" r="1.45" fill="#f40000"/>
<circle cx="514.0" cy="176.3" r="1.45" fill="#f40000"/>
<circle cx="516.1" cy="175.0" r="1.45" fill="#f40000"/>
<circle cx="514.2" cy="174.7" r="1.45" fill="#f40000"/>
<circle cx="516.3" cy="176.4" r="1.45" fill="#f40000"/>
<circle cx="516.7" cy="177.5" r="1.45" fill="#f40000"/>
<circle cx="513.4" cy="184.4" r="1.45" fill="#f40000"/>
<circle cx="517.7" cy="184.2" r="1.45" fill="#f40000"/>
<circle cx="514.6" cy="171.9" r="1.45" fill="#f40000"/>
<circle cx="515.5" cy="183.3" r="1.45" fill="#f40000"/>
<circle cx="517.9" cy="173.8" r="1.45" fill="#f40000"/>
<circle cx="525.7" cy="149.6" r="1.45" fill="#f40000"/>
<circle cx="531.9" cy="149.2" r="1.45" fill="#f40000"/>
<circle cx="536.4" cy="151.5" r="1.45" fill="#f40000"/>
<circle cx="534.1" cy="152.7" r="1.45" fill="#f40000"/>
<circle cx="518.8" cy="151.9" r="1.45" fill="#f40000"/>
<circle cx="510.8" cy="151.9" r="1.45" fill="#f40000"/>
<circle cx="512.7" cy="156.5" r="1.45" fill="#f40000"/>
<circle cx="528" cy="153.5" r="1.45" fill="#f40000"/>
<circle cx="523.4" cy="156.5" r="1.45" fill="#f40000"/>
<circle cx="532.6" cy="157.3" r="1.45" fill="#f40000"/>
<circle cx="520.5" cy="158.5" r="1.45" fill="#f40000"/>
<circle cx="526" cy="160" r="1.45" fill="#f40000"/>
<circle cx="508.5" cy="165.8" r="1.45" fill="#f40000"/>
<circle cx="505.8" cy="168" r="1.45" fill="#f40000"/>
<circle cx="507.3" cy="172.7" r="1.45" fill="#f40000"/>
<circle cx="513.4" cy="171.5" r="1.45" fill="#f40000"/>
<circle cx="512.7" cy="173.8" r="1.45" fill="#f40000"/>
<circle cx="513.4" cy="178.1" r="1.45" fill="#f40000"/>
<circle cx="583.4" cy="183.3" r="1.45" fill="#f40000"/>
<circle cx="593.1" cy="179.6" r="1.45" fill="#f40000"/>
<circle cx="582.1" cy="169.0" r="1.45" fill="#f40000"/>
<circle cx="595.8" cy="175.1" r="1.45" fill="#f40000"/>
<circle cx="581.7" cy="183.6" r="1.45" fill="#f40000"/>
<circle cx="594.6" cy="181.3" r="1.45" fill="#f40000"/>
<circle cx="581.9" cy="182.2" r="1.45" fill="#f40000"/>
<circle cx="581.5" cy="182.3" r="1.45" fill="#f40000"/>
<circle cx="590.4" cy="173.6" r="1.45" fill="#f40000"/>
<circle cx="592.7" cy="183.4" r="1.45" fill="#f40000"/>
<circle cx="586.2" cy="170.1" r="1.45" fill="#f40000"/>
<circle cx="592.1" cy="172.0" r="1.45" fill="#f40000"/>
<circle cx="582.5" cy="170.7" r="1.45" fill="#f40000"/>
<circle cx="581.2" cy="171.3" r="1.45" fill="#f40000"/>
<circle cx="587.2" cy="173.1" r="1.45" fill="#f40000"/>
<circle cx="597.5" cy="172.8" r="1.45" fill="#f40000"/>
<circle cx="588.9" cy="175.9" r="1.45" fill="#f40000"/>
<circle cx="593.1" cy="179.8" r="1.45" fill="#f40000"/>
<circle cx="583.2" cy="179.0" r="1.45" fill="#f40000"/>
<circle cx="594.7" cy="178.6" r="1.45" fill="#f40000"/>
<circle cx="588.8" cy="182.8" r="1.45" fill="#f40000"/>
<circle cx="587.0" cy="179.4" r="1.45" fill="#f40000"/>
<circle cx="592.3" cy="184.4" r="1.45" fill="#f40000"/>
<circle cx="586.0" cy="182.8" r="1.45" fill="#f40000"/>
<circle cx="592.7" cy="180.7" r="1.45" fill="#f40000"/>
<circle cx="587.2" cy="177.7" r="1.45" fill="#f40000"/>
<circle cx="580.8" cy="175.4" r="1.45" fill="#f40000"/>
<circle cx="581.1" cy="181.9" r="1.45" fill="#f40000"/>
<circle cx="584.5" cy="175.7" r="1.45" fill="#f40000"/>
<circle cx="581.3" cy="182.9" r="1.45" fill="#f40000"/>
<circle cx="595.6" cy="181.1" r="1.45" fill="#f40000"/>
<circle cx="584.9" cy="176.6" r="1.45" fill="#f40000"/>
<circle cx="585.1" cy="178.9" r="1.45" fill="#f40000"/>
<circle cx="582.7" cy="178.7" r="1.45" fill="#f40000"/>
<circle cx="584.6" cy="184.2" r="1.45" fill="#f40000"/>
<circle cx="584.2" cy="184.2" r="1.45" fill="#f40000"/>
<circle cx="585.4" cy="177.8" r="1.45" fill="#f40000"/>
<circle cx="579.8" cy="178.0" r="1.45" fill="#f40000"/>
<circle cx="588.4" cy="179.3" r="1.45" fill="#f40000"/>
<circle cx="583.5" cy="179.4" r="1.45" fill="#f40000"/>
<circle cx="579.9" cy="176.8" r="1.45" fill="#f40000"/>
<circle cx="581.4" cy="178.2" r="1.45" fill="#f40000"/>
<circle cx="580.6" cy="174.2" r="1.45" fill="#f40000"/>
<circle cx="585.3" cy="176.5" r="1.45" fill="#f40000"/>
<circle cx="590.5" cy="179.6" r="1.45" fill="#f40000"/>
<circle cx="593.5" cy="181.0" r="1.45" fill="#f40000"/>
<circle cx="592.8" cy="183.3" r="1.45" fill="#f40000"/>
<circle cx="586.9" cy="177.5" r="1.45" fill="#f40000"/>
<circle cx="593.0" cy="180.8" r="1.45" fill="#f40000"/>
<circle cx="580.6" cy="182.9" r="1.45" fill="#f40000"/>
<circle cx="596.0" cy="180.6" r="1.45" fill="#f40000"/>
<circle cx="593.2" cy="182.6" r="1.45" fill="#f40000"/>
<circle cx="582.3" cy="179.6" r="1.45" fill="#f40000"/>
<circle cx="589.0" cy="182.9" r="1.45" fill="#f40000"/>
<circle cx="594.4" cy="182.8" r="1.45" fill="#f40000"/>
<circle cx="590.4" cy="183.5" r="1.45" fill="#f40000"/>
<circle cx="592.2" cy="181.3" r="1.45" fill="#f40000"/>
<circle cx="582.2" cy="177.8" r="1.45" fill="#f40000"/>
<circle cx="581.7" cy="182.9" r="1.45" fill="#f40000"/>
<circle cx="590.0" cy="180.7" r="1.45" fill="#f40000"/>
<circle cx="591.2" cy="181.2" r="1.45" fill="#f40000"/>
<circle cx="594.3" cy="181.9" r="1.45" fill="#f40000"/>
<circle cx="589.0" cy="179.7" r="1.45" fill="#f40000"/>
<circle cx="593.2" cy="176.7" r="1.45" fill="#f40000"/>
<circle cx="581.2" cy="176.8" r="1.45" fill="#f40000"/>
<circle cx="593.3" cy="184.3" r="1.45" fill="#f40000"/>
<circle cx="588.8" cy="178.1" r="1.45" fill="#f40000"/>
<circle cx="588.5" cy="181.2" r="1.45" fill="#f40000"/>
<circle cx="593.8" cy="180.5" r="1.45" fill="#f40000"/>
<circle cx="582.5" cy="176.7" r="1.45" fill="#f40000"/>
<circle cx="593.3" cy="177.2" r="1.45" fill="#f40000"/>
<circle cx="580.9" cy="176.8" r="1.45" fill="#f40000"/>
<circle cx="592.0" cy="181.3" r="1.45" fill="#f40000"/>
<circle cx="592.1" cy="177.1" r="1.45" fill="#f40000"/>
<circle cx="589.2" cy="178.9" r="1.45" fill="#f40000"/>
<circle cx="588.3" cy="175.3" r="1.45" fill="#f40000"/>
<circle cx="597.6" cy="183.9" r="1.45" fill="#f40000"/>
<circle cx="580.1" cy="178.9" r="1.45" fill="#f40000"/>
<circle cx="594.7" cy="184.3" r="1.45" fill="#f40000"/>
<circle cx="588.0" cy="176.8" r="1.45" fill="#f40000"/>
<circle cx="583.6" cy="184.0" r="1.45" fill="#f40000"/>
<circle cx="583.6" cy="180.2" r="1.45" fill="#f40000"/>
<circle cx="582.4" cy="179.6" r="1.45" fill="#f40000"/>
<circle cx="594.7" cy="179.4" r="1.45" fill="#f40000"/>
<circle cx="595.9" cy="181.5" r="1.45" fill="#f40000"/>
<circle cx="584.0" cy="183.5" r="1.45" fill="#f40000"/>
<circle cx="579.9" cy="179.2" r="1.45" fill="#f40000"/>
<circle cx="588.0" cy="177.2" r="1.45" fill="#f40000"/>
<circle cx="582.4" cy="177.6" r="1.45" fill="#f40000"/>
<circle cx="585.6" cy="182.9" r="1.45" fill="#f40000"/>
<circle cx="579.8" cy="182.0" r="1.45" fill="#f40000"/>
<circle cx="522" cy="180.8" r="1.45" fill="#000"/>
<circle cx="526.7" cy="182.5" r="1.45" fill="#000"/>
<circle cx="531.5" cy="183.6" r="1.45" fill="#000"/>
<circle cx="516.5" cy="182.8" r="1.45" fill="#000"/>
<circle cx="535.5" cy="184" r="1.45" fill="#000"/>
<circle cx="519.5" cy="184.2" r="1.45" fill="#000"/>
<circle cx="594.3" cy="179.7" r="1.45" fill="#000"/>
<circle cx="592.3" cy="181.1" r="1.45" fill="#000"/>
<circle cx="598.3" cy="180.3" r="1.45" fill="#000"/>
<circle cx="602.7" cy="180.7" r="1.45" fill="#000"/>
<circle cx="605.5" cy="178.9" r="1.45" fill="#000"/>
<circle cx="588.5" cy="182.5" r="1.45" fill="#000"/>
<text x="450.9" y="18.7" font-size="6.2" fill="#1a1a1a" stroke="#1a1a1a" stroke-width="0.25">Mal</text>
<text x="479.7" y="18.9" font-size="6.2" fill="#1a1a1a" stroke="#1a1a1a" stroke-width="0.25">Ugt8a</text>
<text x="510.7" y="19.5" font-size="6.2" fill="#1a1a1a" stroke="#1a1a1a" stroke-width="0.25">Gltp</text>
<text x="486" y="32.7" font-size="6.2" fill="#1a1a1a" stroke="#1a1a1a" stroke-width="0.25">Tspan2</text>
<text x="504" y="44.7" font-size="6.2" fill="#1a1a1a" stroke="#1a1a1a" stroke-width="0.25">Sirt2</text>
<text x="441.6" y="52.7" font-size="6.2" fill="#1a1a1a" stroke="#1a1a1a" stroke-width="0.25">9630013A20Rik</text>
<text x="489" y="52.7" font-size="6.2" fill="#1a1a1a" stroke="#1a1a1a" stroke-width="0.25">Cnp</text>
<text x="496" y="63.3" font-size="6.2" fill="#1a1a1a" stroke="#1a1a1a" stroke-width="0.25">Plp</text>
<text x="492.4" y="76" font-size="6.2" fill="#1a1a1a" stroke="#1a1a1a" stroke-width="0.25">Bcas1</text>
<text x="490.7" y="87.3" font-size="6.2" fill="#1a1a1a" stroke="#1a1a1a" stroke-width="0.25">Enpp6</text>
<text x="514" y="86.3" font-size="6.2" fill="#1a1a1a" stroke="#1a1a1a" stroke-width="0.25">Abhd3</text>
<text x="500.7" y="99.3" font-size="6.2" fill="#1a1a1a" stroke="#1a1a1a" stroke-width="0.25">Plxnb3</text>
<text x="483" y="117.8" font-size="6.2" fill="#1a1a1a" stroke="#1a1a1a" stroke-width="0.25">Fa2h</text>
<text x="461.7" y="124.9" font-size="6.2" fill="#1a1a1a" stroke="#1a1a1a" stroke-width="0.25">Plp1</text>
<text x="469.9" y="147.1" font-size="6.2" fill="#1a1a1a" stroke="#1a1a1a" stroke-width="0.25">Mbp</text>
<text x="608.8" y="126.3" font-size="6.2" fill="#1a1a1a" stroke="#1a1a1a" stroke-width="0.25">A2m</text>
<line x1="49.2" y1="350.8" x2="318.5" y2="350.8" stroke="#6e6e6e" stroke-width="1.3"/>
<line x1="318.5" y1="347.5" x2="318.5" y2="559.5" stroke="#666" stroke-width="1.3"/>
<line x1="87.1" y1="347.4" x2="87.1" y2="350.8" stroke="#777" stroke-width="1"/>
<text x="87.1" y="339.2" text-anchor="middle" font-size="10.2" font-weight="bold">-1.0</text>
<line x1="125.6" y1="347.4" x2="125.6" y2="350.8" stroke="#777" stroke-width="1"/>
<text x="125.6" y="339.2" text-anchor="middle" font-size="10.2" font-weight="bold">0.0</text>
<line x1="164.1" y1="347.4" x2="164.1" y2="350.8" stroke="#777" stroke-width="1"/>
<text x="164.1" y="339.2" text-anchor="middle" font-size="10.2" font-weight="bold">1.0</text>
<line x1="202.6" y1="347.4" x2="202.6" y2="350.8" stroke="#777" stroke-width="1"/>
<text x="202.6" y="339.2" text-anchor="middle" font-size="10.2" font-weight="bold">2.0</text>
<line x1="241.2" y1="347.4" x2="241.2" y2="350.8" stroke="#777" stroke-width="1"/>
<text x="241.2" y="339.2" text-anchor="middle" font-size="10.2" font-weight="bold">3.0</text>
<line x1="279.7" y1="347.4" x2="279.7" y2="350.8" stroke="#777" stroke-width="1"/>
<text x="279.7" y="339.2" text-anchor="middle" font-size="10.2" font-weight="bold">4.0</text>
<line x1="318.2" y1="347.4" x2="318.2" y2="350.8" stroke="#777" stroke-width="1"/>
<text x="318.2" y="339.2" text-anchor="middle" font-size="10.2" font-weight="bold">5.0</text>
<line x1="318.4" y1="350.7" x2="322.2" y2="350.7" stroke="#777" stroke-width="1"/>
<text x="324.2" y="354.4" font-size="10.2" font-weight="bold">4.0</text>
<line x1="318.4" y1="392.6" x2="322.2" y2="392.6" stroke="#777" stroke-width="1"/>
<text x="324.2" y="396.3" font-size="10.2" font-weight="bold">2.0</text>
<line x1="318.4" y1="434.4" x2="322.2" y2="434.4" stroke="#777" stroke-width="1"/>
<text x="324.2" y="438.1" font-size="10.2" font-weight="bold">0.0</text>
<line x1="318.4" y1="476.2" x2="322.2" y2="476.2" stroke="#777" stroke-width="1"/>
<text x="324.2" y="479.9" font-size="10.2" font-weight="bold">-2.0</text>
<line x1="318.4" y1="518.1" x2="322.2" y2="518.1" stroke="#777" stroke-width="1"/>
<text x="324.2" y="521.8" font-size="10.2" font-weight="bold">-4.0</text>
<text x="183.5" y="316.4" text-anchor="middle" font-size="12.4" font-weight="bold">Fold change by qPCR</text>
<text transform="translate(366 455.8) rotate(-90)" text-anchor="middle" font-size="12.3" font-weight="bold">RNA-seq fold change</text>
<text x="62.3" y="383.5" font-size="12.2" font-weight="bold">r<tspan font-size="9.9" dx="0.7" dy="-4.6">2</tspan><tspan dx="0" dy="4.6">=0.8049</tspan></text>
<line x1="67.4" y1="497.9" x2="298" y2="359.2" stroke="#d25858" stroke-width="1.1"/>
<circle cx="211" cy="388.8" r="1.35" fill="#0a0ab0"/>
<circle cx="224.2" cy="393.4" r="1.35" fill="#0a0ab0"/>
<circle cx="285.2" cy="385.7" r="1.35" fill="#0a0ab0"/>
<circle cx="300.5" cy="389.3" r="1.35" fill="#0a0ab0"/>
<circle cx="126.8" cy="428.9" r="1.35" fill="#0a0ab0"/>
<circle cx="133.2" cy="428" r="1.35" fill="#0a0ab0"/>
<circle cx="122.5" cy="438.5" r="1.35" fill="#0a0ab0"/>
<circle cx="123.2" cy="454.3" r="1.35" fill="#0a0ab0"/>
<circle cx="116.5" cy="457.7" r="1.35" fill="#0a0ab0"/>
<circle cx="116.9" cy="464.6" r="1.35" fill="#0a0ab0"/>
<circle cx="102.8" cy="465" r="1.35" fill="#0a0ab0"/>
<circle cx="96.4" cy="481.3" r="1.35" fill="#0a0ab0"/>
<circle cx="91.8" cy="486.8" r="1.35" fill="#0a0ab0"/>
<circle cx="88.2" cy="488.1" r="1.35" fill="#0a0ab0"/>
<circle cx="85" cy="488.8" r="1.35" fill="#0a0ab0"/>
<circle cx="77.8" cy="511.1" r="1.35" fill="#0a0ab0"/>
<circle cx="79" cy="518.8" r="1.35" fill="#0a0ab0"/>
<circle cx="67.1" cy="520.3" r="1.35" fill="#0a0ab0"/>
<circle cx="70.3" cy="529.2" r="1.35" fill="#0a0ab0"/>
</svg>
</body></html>
